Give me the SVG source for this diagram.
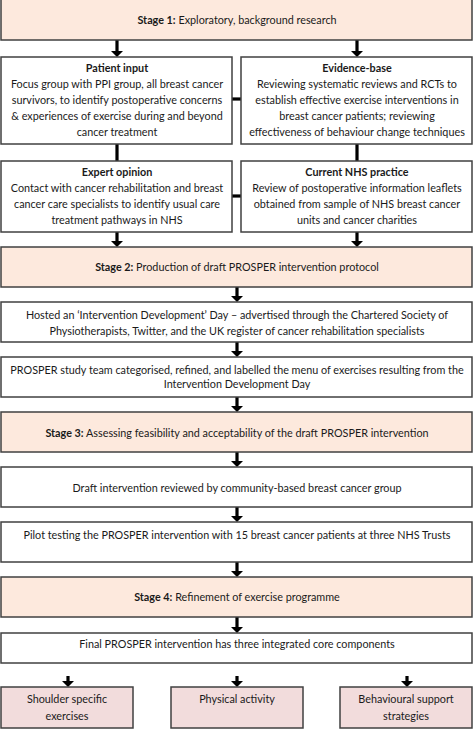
<svg xmlns="http://www.w3.org/2000/svg" width="474" height="729" viewBox="0 0 474 729">
<style>
.box{fill:#ffffff;stroke:#404040;stroke-width:1.5}
.stage{fill:#fde9dd;stroke:#404040;stroke-width:1.5}
.comp{fill:#f2dcdc;stroke:#404040;stroke-width:1.5}
text{font-family:Lato,"Open Sans","Liberation Sans",sans-serif;font-size:10.8px;fill:#1a1a1a;text-anchor:middle}
.b{font-weight:bold}
.arr{fill:#000000}
</style>
<g id="connectors" class="arr">
<polygon points="115.4,40 118.6,40 118.6,51 123,51 117,57 111,51 115.4,51"/>
<polygon points="355.4,40 358.6,40 358.6,51 363,51 357,57 351,51 355.4,51"/>
<rect x="115.4" y="144" width="3.2" height="17"/>
<rect x="355.4" y="144" width="3.2" height="17"/>
<rect x="232" y="97.4" width="9" height="3.2"/>
<rect x="232" y="194.4" width="9" height="3.2"/>
<polygon points="115.4,232 118.6,232 118.6,241 123,241 117,247 111,241 115.4,241"/>
<polygon points="355.4,232 358.6,232 358.6,241 363,241 357,247 351,241 355.4,241"/>
<polygon points="235.4,287 238.6,287 238.6,296 243,296 237,302 231,296 235.4,296"/>
<polygon points="235.4,342 238.6,342 238.6,351 243,351 237,357 231,351 235.4,351"/>
<polygon points="235.4,397 238.6,397 238.6,406 243,406 237,412 231,406 235.4,406"/>
<polygon points="235.4,452 238.6,452 238.6,461 243,461 237,467 231,461 235.4,461"/>
<polygon points="235.4,507 238.6,507 238.6,516 243,516 237,522 231,516 235.4,516"/>
<polygon points="235.4,562 238.6,562 238.6,571 243,571 237,577 231,571 235.4,571"/>
<polygon points="235.4,617 238.6,617 238.6,627 243,627 237,633 231,627 235.4,627"/>
<polygon points="66.4,676 69.6,676 69.6,681 74,681 68,687 62,681 66.4,681"/>
<polygon points="235.4,676 238.6,676 238.6,681 243,681 237,687 231,681 235.4,681"/>
<polygon points="405.4,676 408.6,676 408.6,681 413,681 407,687 401,681 405.4,681"/>
</g>
<g id="stage1">
<rect class="stage" x="1" y="-1" width="471" height="41"/>
<text x="237" y="23.8"><tspan class="b">Stage 1:</tspan> Exploratory, background research</text>
</g>
<g id="patient-input">
<rect class="box" x="1" y="57" width="231" height="87"/>
<text x="117" y="72" class="b">Patient input</text>
<text x="117" y="88">Focus group with PPI group, all breast cancer</text>
<text x="117" y="103.8">survivors, to identify postoperative concerns</text>
<text x="117" y="120">&amp; experiences of exercise during and beyond</text>
<text x="117" y="136">cancer treatment</text>
</g>
<g id="evidence-base">
<rect class="box" x="241" y="57" width="231" height="87"/>
<text x="357" y="72" class="b">Evidence-base</text>
<text x="357" y="88">Reviewing systematic reviews and RCTs to</text>
<text x="357" y="103.8">establish effective exercise interventions in</text>
<text x="357" y="120">breast cancer patients; reviewing</text>
<text x="357" y="136">effectiveness of behaviour change techniques</text>
</g>
<g id="expert-opinion">
<rect class="box" x="1" y="161" width="231" height="71"/>
<text x="117" y="176" class="b">Expert opinion</text>
<text x="117" y="192">Contact with cancer rehabilitation and breast</text>
<text x="117" y="208">cancer care specialists to identify usual care</text>
<text x="117" y="224">treatment pathways in NHS</text>
</g>
<g id="nhs-practice">
<rect class="box" x="241" y="161" width="231" height="71"/>
<text x="357" y="176" class="b">Current NHS practice</text>
<text x="357" y="192">Review of postoperative information leaflets</text>
<text x="357" y="208">obtained from sample of NHS breast cancer</text>
<text x="357" y="224">units and cancer charities</text>
</g>
<g id="stage2">
<rect class="stage" x="1" y="247" width="471" height="40"/>
<text x="237" y="270.5"><tspan class="b">Stage 2:</tspan>  Production of draft PROSPER intervention protocol</text>
</g>
<g id="hosted-day">
<rect class="box" x="1" y="302" width="471" height="40"/>
<text x="237" y="318.8">Hosted an ‘Intervention Development’ Day – advertised through the Chartered Society of</text>
<text x="237" y="334.5">Physiotherapists, Twitter, and the UK register of cancer rehabilitation specialists</text>
</g>
<g id="study-team">
<rect class="box" x="1" y="357" width="471" height="40"/>
<text x="237" y="373.8">PROSPER study team categorised, refined, and labelled the menu of exercises resulting from the</text>
<text x="237" y="388">Intervention Development Day</text>
</g>
<g id="stage3">
<rect class="stage" x="1" y="412" width="471" height="40"/>
<text x="237" y="436.5"><tspan class="b">Stage 3:</tspan> Assessing feasibility and acceptability of the draft PROSPER intervention</text>
</g>
<g id="draft-review">
<rect class="box" x="1" y="467" width="471" height="40"/>
<text x="237" y="491.5">Draft intervention reviewed by community-based breast cancer group</text>
</g>
<g id="pilot">
<rect class="box" x="1" y="522" width="471" height="40"/>
<text x="237" y="538.8">Pilot testing the PROSPER intervention with 15 breast cancer patients at three NHS Trusts</text>
</g>
<g id="stage4">
<rect class="stage" x="1" y="577" width="471" height="40"/>
<text x="237" y="601"><tspan class="b">Stage 4:</tspan>  Refinement of exercise programme</text>
</g>
<g id="final">
<rect class="box" x="1" y="633" width="471" height="30"/>
<text x="237" y="648">Final PROSPER intervention has three integrated core components</text>
</g>
<g id="shoulder">
<rect class="comp" x="1" y="687" width="132" height="41"/>
<text x="67" y="703">Shoulder specific</text>
<text x="67" y="719.8">exercises</text>
</g>
<g id="physical">
<rect class="comp" x="171" y="687" width="132" height="41"/>
<text x="237" y="703">Physical activity</text>
</g>
<g id="behavioural">
<rect class="comp" x="340" y="687" width="132" height="41"/>
<text x="406" y="703">Behavioural support</text>
<text x="406" y="719.8">strategies</text>
</g>
</svg>
